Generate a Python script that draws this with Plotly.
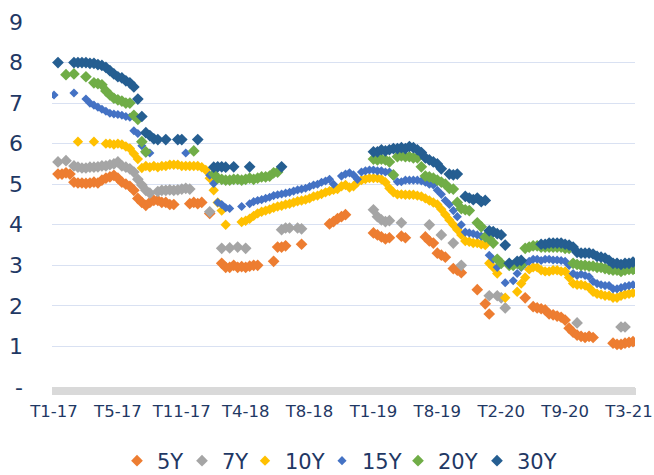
import plotly.graph_objects as go

_ = None

# observation index (one per trading/auction observation, evenly spaced categories)
n_obs = 146
obs = list(range(n_obs))

tick_pos = [0, 16, 32, 48, 64, 80, 96, 112, 128, 144]
tick_labels = ["T1-17", "T5-17", "T11-17", "T4-18", "T8-18",
               "T1-19", "T8-19", "T2-20", "T9-20", "T3-21"]

y_ticks = [0, 1, 2, 3, 4, 5, 6, 7, 8, 9]
y_tick_labels = ["-", "1", "2", "3", "4", "5", "6", "7", "8", "9"]

y5 = [
    _, 5.25, 5.25, 5.28, 5.25, 5.05, 5.03, 5.03, 5.02, 5.03,
    5.05, 5.03, 5.10, 5.15, 5.18, 5.22, 5.15, 5.05, 5.00, 4.95,
    4.85, 4.65, 4.55, 4.48, 4.55, 4.60, 4.60, 4.55, 4.55, 4.50,
    4.50, _, _, _, 4.52, 4.55, 4.52, 4.55, _, 4.28,
    _, _, 3.05, 2.95, 2.95, 3.00, 2.95, 2.97, 2.95, 2.98,
    3.00, 3.00, _, _, _, 3.10, 3.45, 3.45, 3.48, _,
    _, _, 3.52, _, _, _, _, _, _, 4.02,
    4.08, 4.15, 4.20, 4.25, _, _, _, _, _, _,
    3.80, 3.75, 3.70, 3.65, 3.68, _, _, 3.72, 3.68, _,
    _, _, _, 3.70, 3.60, 3.55, 3.30, 3.25, 3.20, _,
    2.92, 2.88, 2.82, _, _, _, 2.40, _, 2.05, 1.80,
    _, _, _, _, _, _, _, _, 2.20, _,
    1.98, 1.95, 1.93, 1.90, 1.80, 1.78, 1.75, 1.72, 1.65, 1.45,
    1.35, 1.28, 1.25, 1.22, 1.25, 1.22, _, _, _, _,
    1.08, 1.05, 1.05, 1.08, 1.10, 1.12,
]

y7 = [
    _, 5.55, _, 5.58, _, 5.45, 5.42, 5.40, 5.40, 5.42,
    5.42, 5.43, 5.45, 5.45, 5.48, 5.50, 5.55, 5.45, 5.42, 5.38,
    5.30, 5.12, 4.98, 4.85, 4.78, _, 4.82, 4.85, 4.85, 4.86,
    4.85, 4.86, 4.88, 4.90, 4.88, _, _, _, _, 4.32,
    _, _, 3.42, _, 3.43, _, 3.45, _, 3.42, _,
    _, _, _, _, _, _, _, 3.88, 3.92, 3.92,
    _, 3.92, 3.90, _, _, _, _, _, _, _,
    _, _, _, _, _, _, _, _, _, _,
    4.37, 4.20, 4.12, 4.08, 4.10, _, _, 4.05, _, _,
    _, _, _, _, 4.00, _, _, 3.75, _, _,
    3.55, _, 3.00, _, _, _, _, _, _, 2.25,
    _, 2.25, 2.20, 1.95, _, _, _, _, _, _,
    _, _, _, _, _, _, _, _, _, _,
    _, 1.58, _, _, _, _, _, _, _, _,
    _, _, 1.48, 1.48, _, _,
]

y10 = [
    _, _, _, _, _, _, 6.05, _, _, _,
    6.05, _, _, 6.00, 6.00, 5.98, 6.00, 5.98, 5.93, 5.88,
    5.75, 5.62, 5.40, 5.45, 5.42, 5.45, 5.42, 5.45, 5.45, 5.48,
    5.48, 5.48, 5.45, 5.45, 5.45, 5.45, 5.45, 5.42, 5.35, 5.15,
    4.85, 4.55, 4.35, 4.00, _, _, _, 4.07, 4.10, 4.15,
    4.22, 4.28, 4.32, 4.35, 4.38, 4.42, 4.45, 4.47, 4.50, 4.52,
    4.55, 4.58, 4.60, 4.62, 4.65, 4.70, 4.72, 4.76, 4.80, 4.83,
    4.86, 4.88, 4.95, 4.98, 4.92, 4.95, 5.05, 5.10, 5.13, 5.15,
    5.15, 5.15, 5.12, 5.05, 4.90, 4.80, 4.75, 4.75, 4.74, 4.74,
    4.74, 4.72, 4.70, 4.65, 4.60, 4.55, 4.50, 4.38, 4.25, 4.12,
    4.00, 3.88, 3.75, 3.60, 3.58, 3.55, 3.55, 3.52, 3.50, 3.05,
    2.95, 2.80, _, 2.20, _, _, 2.35, 2.55, 2.70, 2.90,
    2.95, 2.95, 2.88, 2.85, 2.85, 2.88, 2.88, 2.85, 2.85, 2.70,
    2.55, 2.52, 2.52, 2.50, 2.45, 2.35, 2.30, 2.28, 2.25, 2.25,
    2.20, 2.20, 2.25, 2.28, 2.30, 2.32,
]

y15 = [
    7.20, _, _, _, _, 7.25, _, _, 7.10, 7.00,
    6.95, 6.90, 6.85, 6.80, 6.75, 6.73, 6.72, 6.70, 6.67, 6.65,
    6.32, 6.25, 5.95, 5.77, 5.77, _, _, _, _, _,
    _, _, _, 5.77, _, _, _, _, _, 5.22,
    5.02, 4.55, 4.50, 4.42, 4.40, _, _, 4.45, _, 4.52,
    4.57, 4.60, 4.62, 4.65, 4.68, 4.72, 4.74, 4.76, 4.78, 4.80,
    4.83, 4.86, 4.88, 4.90, 4.94, 4.98, 5.00, 5.05, 5.08, 5.12,
    5.00, _, 5.20, 5.25, 5.28, 5.23, 5.12, 5.30, 5.33, 5.35,
    5.35, 5.33, 5.33, 5.30, 5.30, 5.20, 5.06, 5.06, 5.10, 5.10,
    5.10, 5.10, 5.08, 5.05, 5.00, 4.98, 4.85, 4.75, 4.60, 4.50,
    4.35, 4.20, 4.00, 3.82, 3.80, 3.78, 3.75, 3.72, 3.72, 3.25,
    3.15, 2.95, _, 2.57, _, 2.62, 2.80, 2.95, 3.05, 3.10,
    3.15, 3.15, 3.12, 3.15, 3.15, 3.13, 3.13, 3.12, 3.10, 3.00,
    2.80, 2.75, 2.78, 2.75, 2.72, 2.60, 2.55, 2.52, 2.50, 2.50,
    2.42, 2.42, 2.45, 2.48, 2.50, 2.52,
]

y20 = [
    _, _, _, 7.70, _, 7.72, _, _, 7.65, _,
    7.50, 7.48, 7.45, 7.30, 7.20, 7.12, 7.08, 7.05, 7.00, 7.00,
    6.70, 6.60, 6.05, 5.80, _, _, _, _, _, _,
    _, _, _, _, _, 5.82, _, _, _, _,
    5.25, 5.15, 5.12, 5.10, 5.10, 5.12, 5.12, 5.10, 5.12, 5.15,
    5.12, 5.15, 5.18, 5.18, 5.20, 5.28, 5.30, _, _, _,
    _, _, _, _, _, _, _, _, _, _,
    _, _, _, _, _, _, _, _, _, _,
    5.62, 5.60, 5.62, 5.60, 5.55, 5.23, 5.68, 5.70, 5.68, 5.68,
    5.65, 5.65, 5.43, 5.20, 5.18, 5.15, 5.10, 5.05, 5.00, 4.90,
    4.88, 4.55, 4.40, 4.37, 4.35, _, 4.05, 3.95, 3.70, 3.65,
    3.55, 3.15, 3.05, _, 3.00, 3.00, 3.05, 3.00, 3.42, 3.45,
    3.48, 3.48, 3.45, 3.45, 3.45, 3.45, 3.45, 3.45, 3.42, 3.42,
    3.05, 3.02, 3.00, 3.00, 2.98, 2.98, 2.95, 2.95, 2.92, 2.90,
    2.88, 2.88, 2.85, 2.88, 2.90, 2.90,
]

y30 = [
    _, 8.00, _, _, _, 8.00, 8.00, 8.00, 8.00, 7.98,
    7.98, 7.95, 7.93, 7.88, 7.80, 7.72, 7.65, 7.62, 7.55, 7.50,
    7.40, 7.10, 6.67, 6.27, 6.20, 6.12, 6.10, _, 6.10, _,
    _, 6.10, 6.10, _, _, _, 6.10, _, _, _,
    5.42, 5.43, 5.43, 5.42, _, 5.43, _, _, _, 5.43,
    _, _, _, _, _, _, _, 5.43, _, _,
    _, _, _, _, _, _, _, _, _, _,
    _, _, _, _, _, _, _, _, _, _,
    5.80, 5.80, 5.85, 5.82, 5.85, 5.88, 5.88, 5.90, 5.88, 5.93,
    5.90, 5.85, 5.78, 5.65, 5.60, 5.55, 5.50, 5.38, _, 5.25,
    5.23, 5.25, _, 4.70, 4.66, 4.62, 4.66, 4.57, 4.60, 3.85,
    3.83, 3.78, 3.75, 3.50, 3.05, _, 3.10, 3.12, _, _,
    _, _, 3.52, 3.52, 3.55, 3.55, 3.55, 3.55, 3.52, 3.50,
    3.45, 3.32, 3.30, 3.30, 3.30, 3.28, 3.22, 3.20, 3.18, 3.12,
    3.05, 3.05, 3.02, 3.05, 3.05, 3.08,
]

series_names = ["5Y", "7Y", "10Y", "15Y", "20Y", "30Y"]
series_values = [y5, y7, y10, y15, y20, y30]
series_colors = ["#ED7D31", "#A5A5A5", "#FFC000", "#4472C4", "#70AD47", "#255E91"]
marker_sizes = [9, 9, 8, 7, 9, 9]
legend_left_px = [117, 182, 245, 322, 398, 477]   # left edge of each legend entry (px)

for v in series_values:
    assert len(v) == n_obs, len(v)

W, H = 654, 475
ML, MR, MT, MB = 52, 19, 22, 88
plot_w = W - ML - MR
plot_h = H - MT - MB
legend_center_px = 461

text_col = "#1F3864"
fig = go.Figure()
legend_layouts = {}
for k, (name, vals, col, ms) in enumerate(zip(series_names, series_values, series_colors, marker_sizes)):
    lname = "legend" if k == 0 else f"legend{k + 1}"
    fig.add_trace(go.Scatter(
        x=obs, y=vals, name=name, mode="markers", legend=lname,
        marker=dict(symbol="diamond", size=ms, color=col, line=dict(width=0)),
    ))
    legend_layouts[lname] = dict(
        orientation="h", xanchor="left", yanchor="middle",
        x=(legend_left_px[k] - ML) / plot_w,
        y=(MT + plot_h - legend_center_px) / plot_h,
        font=dict(size=21, color=text_col), itemwidth=30,
        bgcolor="rgba(0,0,0,0)",
    )

fig.update_layout(
    width=W, height=H,
    margin=dict(l=ML, r=MR, t=MT, b=MB, autoexpand=False),
    paper_bgcolor="white", plot_bgcolor="white",
    font=dict(family="DejaVu Sans", color=text_col),
    showlegend=True,
    xaxis=dict(
        range=[-0.5, n_obs - 0.5], tickmode="array", tickvals=tick_pos, ticktext=tick_labels,
        tickfont=dict(size=16.5, color=text_col), showgrid=False, zeroline=False,
        ticks="outside", ticklen=7, tickcolor="#D9D9D9", tickwidth=1, automargin=False,
        minor=dict(ticks="outside", dtick=0.25, ticklen=7, tickcolor="#D9D9D9", tickwidth=1, showgrid=False),
        showline=True, linecolor="#D9D9D9", linewidth=1, ticklabelstandoff=2,
        ticklabeloverflow="allow",
    ),
    yaxis=dict(
        range=[0, 9], tickmode="array", tickvals=y_ticks, ticktext=y_tick_labels,
        tickfont=dict(size=22, color=text_col), showgrid=True, gridcolor="#D9E1F2", gridwidth=1,
        zeroline=False, showline=False, ticks="", ticklabelstandoff=28, automargin=False,
    ),
    **legend_layouts,
)

# remove the default page margin so the figure fills the 654x475 window exactly
fig.write_html(
    "out.html",
    config={"displayModeBar": False},
    post_script="document.body.style.margin='0';document.body.style.overflow='hidden';",
)
